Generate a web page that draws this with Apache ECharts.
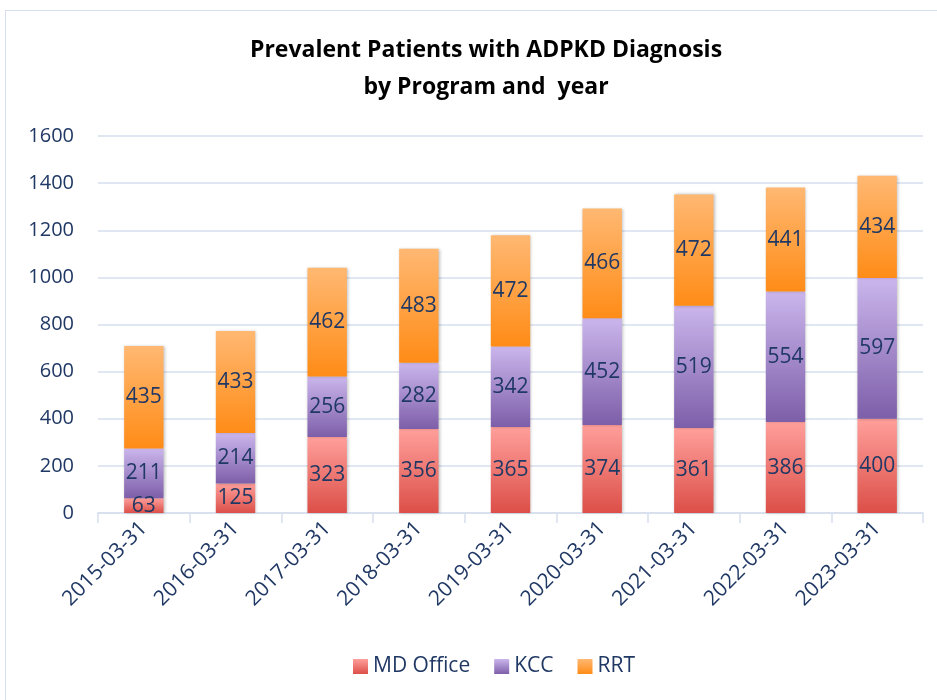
<!DOCTYPE html>
<html>
<head>
<meta charset="utf-8">
<script src="https://cdn.jsdelivr.net/npm/echarts@6/dist/echarts.min.js"></script>
<style>
  html, body { margin: 0; padding: 0; background: #fff; }
  #frame { position: absolute; left: 5px; top: 10px; width: 940px; height: 700px; border: 1px solid #d6dfee; box-sizing: border-box; }
  #chart { position: absolute; left: 0; top: 0; width: 937px; height: 700px; }
</style>
</head>
<body>
<div id="frame"></div>
<div id="chart"></div>
<script>
// 数据
const years = ['2015-03-31', '2016-03-31', '2017-03-31', '2018-03-31', '2019-03-31',
               '2020-03-31', '2021-03-31', '2022-03-31', '2023-03-31'];
const mdOffice = [63, 125, 323, 356, 365, 374, 361, 386, 400];
const kcc = [211, 214, 256, 282, 342, 452, 519, 554, 597];
const rrt = [435, 433, 462, 483, 472, 466, 472, 441, 434];
const yTicks = [0, 200, 400, 600, 800, 1000, 1200, 1400, 1600];

const textColor = '#203864';
const fontFamily = 'Open Sans, Liberation Sans, sans-serif';

function grad(top, bottom) {
    return new echarts.graphic.LinearGradient(0, 0, 0, 1, [
        { offset: 0, color: top },
        { offset: 1, color: bottom }
    ]);
}

function makeSeries(name, data, top, bottom) {
    return {
        name: name,
        type: 'bar',
        stack: 'total',
        data: data,
        barWidth: '43%',
        itemStyle: {
            color: grad(top, bottom),
            shadowColor: 'rgba(0,0,0,0.25)',
            shadowBlur: 3,
            shadowOffsetX: 1
        },
        label: {
            show: true,
            position: 'inside',
            color: textColor,
            fontSize: 21,
            fontFamily: fontFamily
        }
    };
}

const chart = echarts.init(document.getElementById('chart'));
chart.setOption({
    animation: false,
    title: {
        text: 'Prevalent Patients with ADPKD Diagnosis\nby Program and  year',
        left: 481,
        top: 27,
        textAlign: 'center',
        textStyle: {
            fontFamily: fontFamily,
            fontSize: 23,
            fontWeight: 'bold',
            color: '#000',
            lineHeight: 37
        }
    },
    legend: {
        bottom: 18,
        left: 348,
        itemWidth: 15,
        itemHeight: 15,
        itemGap: 24,
        icon: 'rect',
        textStyle: { color: textColor, fontSize: 21, fontFamily: fontFamily },
        data: ['MD Office', 'KCC', 'RRT']
    },
    grid: {
        left: 98,
        right: 14,
        top: 136,
        bottom: 187
    },
    xAxis: {
        type: 'category',
        data: years,
        axisLine: { lineStyle: { color: '#d6dfee', width: 1.5 } },
        axisTick: { show: true, length: 10, lineStyle: { color: '#d6dfee', width: 1.5 } },
        axisLabel: {
            rotate: 45,
            color: textColor,
            fontSize: 21,
            fontFamily: fontFamily,
            margin: 12
        }
    },
    yAxis: {
        type: 'value',
        min: yTicks[0],
        max: yTicks[yTicks.length - 1],
        interval: 200,
        axisLine: { show: false },
        axisTick: { show: false },
        splitLine: { lineStyle: { color: '#d6dfee', width: 1.5 } },
        axisLabel: {
            color: textColor,
            fontSize: 20,
            fontFamily: fontFamily,
            margin: 24,
            formatter: function (v) { return String(v); }
        }
    },
    series: [
        makeSeries('MD Office', mdOffice, '#ff9f9b', '#dc4f48'),
        makeSeries('KCC', kcc, '#cbb6ec', '#7d5ea9'),
        makeSeries('RRT', rrt, '#ffb872', '#ff8c17')
    ]
});
</script>
</body>
</html>
